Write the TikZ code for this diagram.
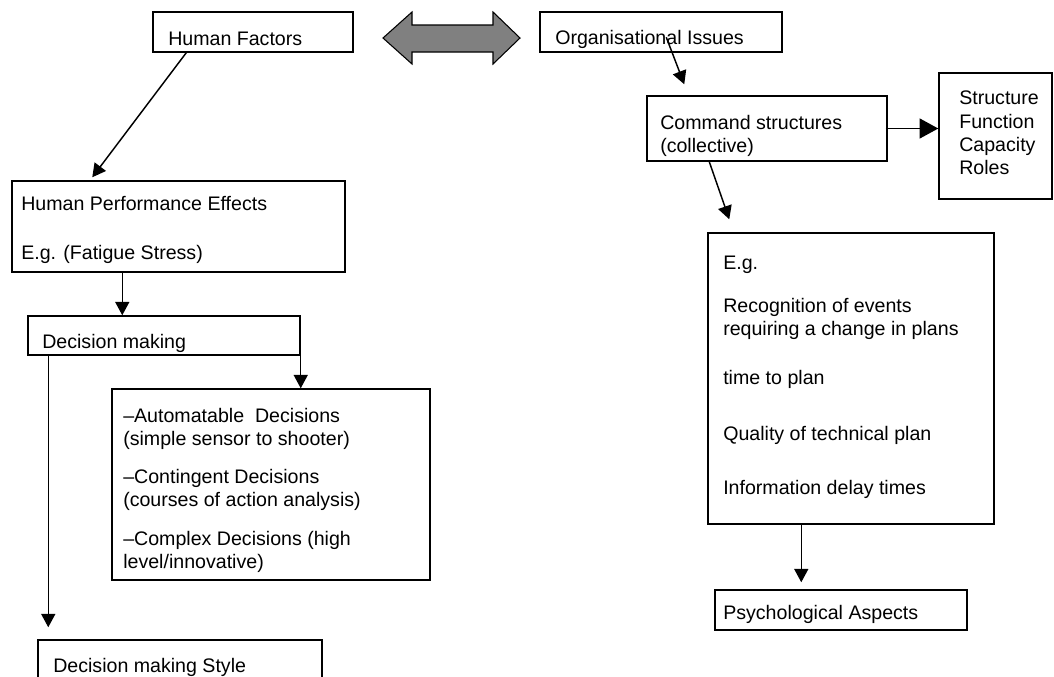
\documentclass[tikz,border=0pt]{standalone}
\usepackage{fontspec}
\setmainfont{Liberation Sans}
\usetikzlibrary{arrows.meta,fit,calc}
\definecolor{linkgray}{RGB}{128,128,128}
\newcommand{\lblfont}{\fontsize{14.7pt}{17.6pt}\selectfont}

\begin{document}
\begin{tikzpicture}[x=0.75pt,y=-0.75pt,
    box/.style={draw,line width=1.1pt,inner sep=0pt},
    lbl/.style={anchor=base west,inner sep=0pt,font=\lblfont},
    arr/.style={line width=1.1pt,-{Triangle[length=10pt,width=10.5pt]}}]
  \useasboundingbox (0,0) rectangle (1054,676);
  \clip (0,0) rectangle (1054,676);
  % boxes, left side
  \node[box,fit={(153,12) (353,52)}] (hf) {};
  \node[box,fit={(12,181) (345,272)}] (hpe) {};
  \node[box,fit={(28,316) (300,355)}] (dm) {};
  \node[box,fit={(112,389) (430,580)}] (list) {};
  \node[box,fit={(38,640) (322,700)}] (dms) {};
  % boxes, right side
  \node[box,fit={(540,12) (782,52)}] (org) {};
  \node[box,fit={(647,96) (887,161)}] (cmd) {};
  \node[box,fit={(939,73) (1052,199)}] (str) {};
  \node[box,fit={(708,233) (994,524)}] (eg) {};
  \node[box,fit={(715,590) (967,630)}] (psy) {};
  % two-way arrow between the top boxes
  \draw[line width=0.8pt,fill=linkgray] (383,38) -- (412,12) -- (412,25) -- (493,25)
    -- (493,12) -- (520,38) -- (493,64) -- (493,52) -- (412,52) -- (412,64) -- cycle;
  % texts
  \node[lbl] (hft) at (168,45) {Human Factors};
  \node[lbl] (orgt) at (555,44) {Organisational Issues};
  \node[lbl] (hpe1) at (21,210) {Human Performance Effects};
  \node[lbl] (hpe2) at (21,259) {E.g. (Fatigue Stress)};
  \node[lbl] (dmt) at (42,348) {Decision making};
  \foreach \y/\t [count=\i] in {422/{–Automatable~ Decisions},445/{(simple sensor to shooter)},
      483/{–Contingent Decisions},506/{(courses of action analysis)},
      545/{–Complex Decisions (high},568/{level/innovative)}}{
    \node[lbl] (list\i) at (123,\y) {\t};
  }
  \node[lbl] (dmst) at (53,672) {Decision making Style};
  \node[lbl] (cmd1) at (660,129) {Command structures};
  \node[lbl] (cmd2) at (660,152) {(collective)};
  \foreach \y/\t [count=\i] in {104/Structure,128/Function,151/Capacity,174/Roles}{
    \node[lbl] (str\i) at (959,\y) {\t};
  }
  \foreach \y/\t [count=\i] in {269/{E.g.},312/{Recognition of events},335/{requiring a change in plans},
      384/{time to plan},440/{Quality of technical plan},494/{Information delay times}}{
    \node[lbl] (eg\i) at (723,\y) {\t};
  }
  \node[lbl] (psyt) at (723,619) {Psychological Aspects};
  % connectors
  \draw[arr] ($(hf.south west)+(34,0)$) -- ($(hpe.north west)+(81,-3)$);
  \draw[arr] ($(hpe.south west)+(111,0)$) -- ($(dm.north west)+(95,0)$);
  \draw[arr] ($(dm.south east)+(0,-12)$) -- (dm.south east |- list.north);
  \draw[arr] ($(dm.south west)+(21,0)$) -- ($(dms.north west)+(11,-12)$);
  \draw[arr] ($(org.north west)+(127,26)$) -- ($(cmd.north west)+(38,-11)$);
  \draw[line width=1.1pt,-{Triangle[length=14pt,width=15pt]}] ($(cmd.east)+(-2,0)$) -- (cmd.east -| str.west);
  \draw[arr] ($(cmd.south west)+(63,0)$) -- ($(eg.north west)+(22,-13)$);
  \draw[arr] ($(eg.south west)+(94,0)$) -- ($(psy.north west)+(87,-7)$);
\end{tikzpicture}
\end{document}
